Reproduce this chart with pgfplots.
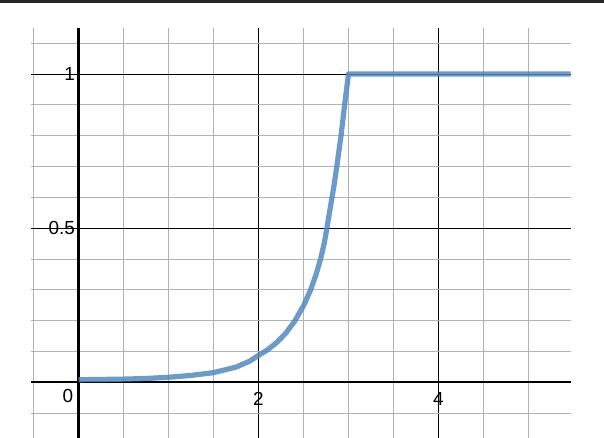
\documentclass[border=0pt]{standalone}
\usepackage{pgfplots}
\pgfplotsset{compat=1.18}
\usepackage{fontspec}
\setmainfont{Liberation Sans}
\definecolor{curveblue}{RGB}{81,137,193}
\definecolor{minorgray}{RGB}{178,178,178}

\begin{document}
\begin{tikzpicture}
	\useasboundingbox (-31bp,0) rectangle (573bp,438bp);
	\begin{axis}[
		at={(0,0)}, anchor=south west,
		scale only axis,
		width=539.7bp, height=410bp,
		xmin=-0.528, xmax=5.469,
		ymin=-0.181, ymax=1.149,
		axis lines=middle,
		axis line style={-, line width=2.2bp, black},
		xtick={2,4}, xticklabels={2,4},
		ytick={0.5,1}, yticklabels={0.5,1},
		minor xtick={-0.5,0.5,1,1.5,2.5,3,3.5,4.5,5},
		minor ytick={-0.1,0.1,0.2,0.3,0.4,0.6,0.7,0.8,0.9,1.1},
		grid=both,
		major grid style={black, line width=0.75bp},
		minor grid style={minorgray, line width=0.75bp},
		major tick length=0, minor tick length=0,
		tick label style={font=\fontsize{19}{21}\selectfont},
		xticklabel style={yshift=-7bp},
		clip=false,
		]
		% curve
		\addplot[color=curveblue, opacity=0.85, line width=5.2bp, line join=round] coordinates {
(0,0.008)
(0.25,0.009)
(0.5,0.010)
(0.75,0.012)
(1.0,0.016)
(1.25,0.022)
(1.5,0.031)
(1.75,0.049)
(1.9,0.068)
(2.0,0.087)
(2.1,0.105)
(2.2,0.128)
(2.3,0.158)
(2.4,0.197)
(2.5,0.248)
(2.58,0.300)
(2.64,0.350)
(2.69,0.400)
(2.73,0.450)
(2.76,0.500)
(2.80,0.570)
(2.84,0.640)
(2.87,0.700)
(2.917,0.800)
(2.957,0.900)
(3.0,1.0)
(5.469,1.0)
		};
		\node[font=\fontsize{19}{21}\selectfont] at (axis cs:-0.117,-0.045) {0};
	\end{axis}
	\fill[black!85] (-31bp,434.5bp) rectangle (573bp,438bp);
\end{tikzpicture}
\end{document}
